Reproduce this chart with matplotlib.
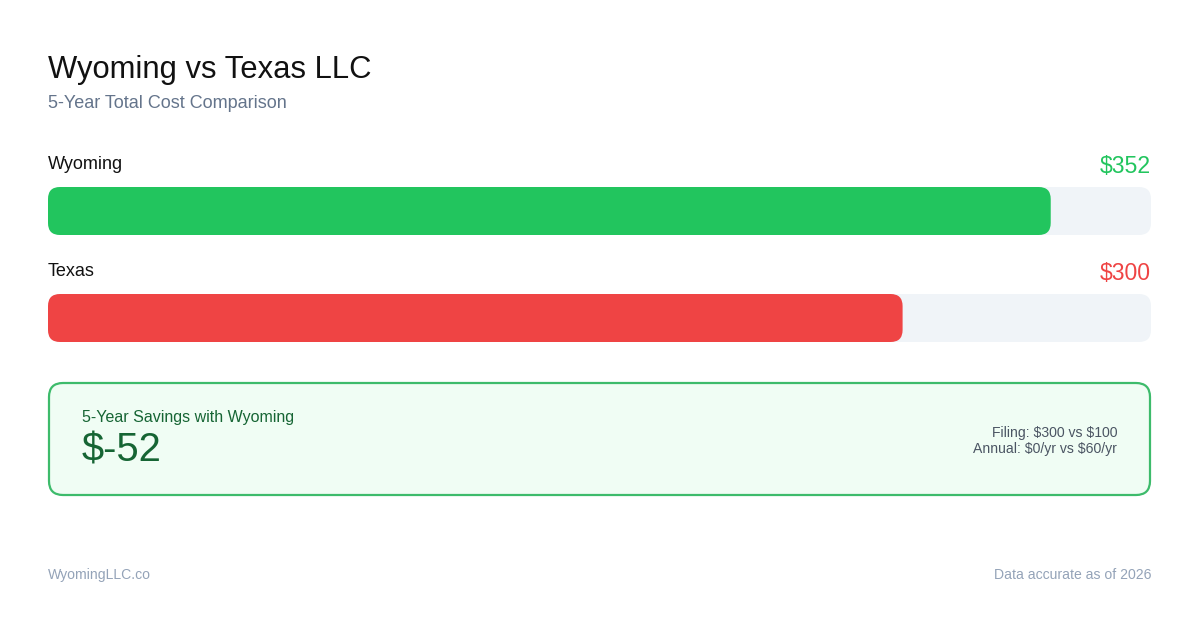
import matplotlib
matplotlib.use("Agg")
import matplotlib.pyplot as plt
from matplotlib.patches import FancyBboxPatch

plt.rcParams['font.family'] = ['Liberation Sans', 'DejaVu Sans']
plt.rcParams['text.parse_math'] = False

# data
title = "Wyoming vs Texas LLC"
subtitle = "5-Year Total Cost Comparison"
states = ["Wyoming", "Texas"]
totals = [352, 300]
bar_colors = ["#22c55e", "#ef4444"]
savings_label = "5-Year Savings with Wyoming"
fee_notes = ["Filing: $300 vs $100", "Annual: $0/yr vs $60/yr"]
footer_left = "WyomingLLC.co"
footer_right = "Data accurate as of 2026"

W, H = 1200, 630
fig = plt.figure(figsize=(W / 100, H / 100), dpi=100)
fig.patch.set_facecolor("white")

# background axes in pixel coords (y down)
bg = fig.add_axes([0, 0, 1, 1])
bg.set_xlim(0, W)
bg.set_ylim(H, 0)
bg.axis("off")

def pt(px):
    return px * 0.72

bg.text(48, 78, title, fontsize=pt(31), color="#111111", va="baseline")
bg.text(48, 108, subtitle, fontsize=pt(18), color="#64748b", va="baseline")

# bar axes: x in dollars, y in pixels
x0, x1 = 48, 1151
y_top, y_bot = 140, 350
vmax = max(totals) * 1.1
bax = fig.add_axes([x0 / W, 1 - y_bot / H, (x1 - x0) / W, (y_bot - y_top) / H])
bax.set_xlim(0, vmax)
bax.set_ylim(y_bot, y_top)
bax.axis("off")

px_per_unit = (x1 - x0) / vmax
radius = 12
bar_h = 48
row_gap = 107
for i, (name, val, col) in enumerate(zip(states, totals, bar_colors)):
    yb = 187 + i * row_gap
    # track
    bax.add_patch(FancyBboxPatch((0, yb), vmax, bar_h,
                                 boxstyle=f"round,pad=0,rounding_size={radius / px_per_unit}",
                                 mutation_aspect=px_per_unit,
                                 fc="#f0f4f8", ec="none"))
    bax.add_patch(FancyBboxPatch((0, yb), val, bar_h,
                                 boxstyle=f"round,pad=0,rounding_size={radius / px_per_unit}",
                                 mutation_aspect=px_per_unit,
                                 fc=col, ec="none"))
    bg.text(48, yb - 18, name, fontsize=pt(18), color="#111111", va="baseline")
    bg.text(x1, yb - 14, f"${val}", fontsize=pt(23), color=col, va="baseline", ha="right")

# savings box
bg.add_patch(FancyBboxPatch((49, 383), 1101, 112,
                            boxstyle="round,pad=0,rounding_size=14",
                            fc="#f0fdf4", ec="#3dbb6b", lw=1.6))
savings = totals[1] - totals[0]
bg.text(82, 422, savings_label, fontsize=pt(16), color="#166534", va="baseline")
bg.text(82, 462, f"$-{abs(savings)}" if savings < 0 else f"${savings}",
        fontsize=pt(40), color="#166534", va="baseline")
bg.text(1117, 437, fee_notes[0], fontsize=pt(14), color="#4b5563", va="baseline", ha="right")
bg.text(1117, 453, fee_notes[1], fontsize=pt(14), color="#4b5563", va="baseline", ha="right")

# footer
bg.text(48, 579, footer_left, fontsize=pt(14), color="#94a3b8", va="baseline")
bg.text(1151, 579, footer_right, fontsize=pt(14), color="#94a3b8", va="baseline", ha="right")

fig.savefig("out.png", dpi=100, facecolor="white")
